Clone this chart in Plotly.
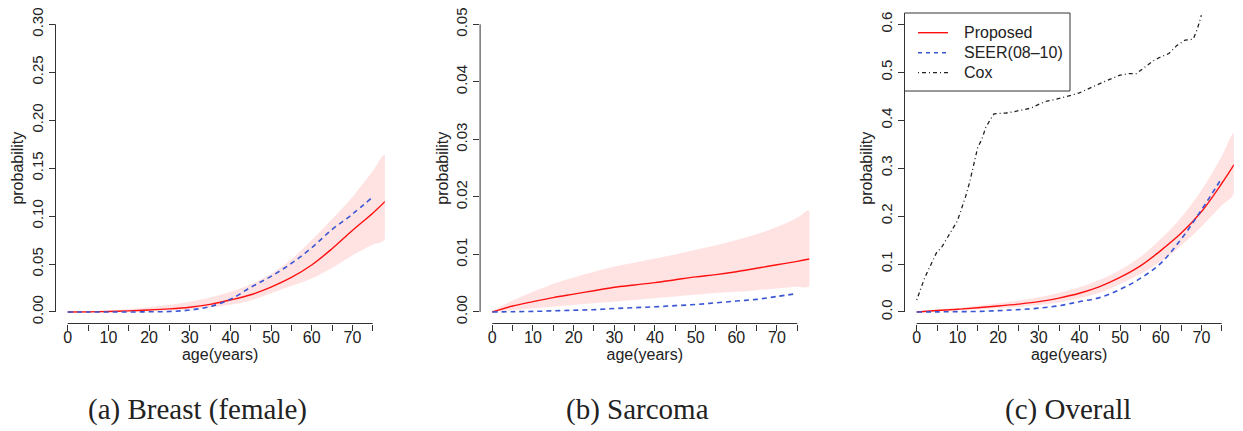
import plotly.graph_objects as go

# ---------------- data ----------------
age_grid = [0, 5, 10, 15, 20, 25, 30, 35, 40, 45, 50, 55, 60, 65, 70, 75, 78]
seer_age = [0, 5, 10, 15, 20, 25, 30, 35, 40, 45, 50, 55, 60, 65, 70, 75]

breast_proposed = [0.0, 0.0001, 0.0005, 0.0012, 0.002, 0.0032, 0.005, 0.008, 0.0125,
                   0.018, 0.026, 0.036, 0.049, 0.066, 0.085, 0.103, 0.115]
breast_upper = [0.0, 0.0003, 0.0015, 0.003, 0.005, 0.0075, 0.0107, 0.015, 0.021,
                0.029, 0.040, 0.055, 0.075, 0.097, 0.120, 0.147, 0.164]
breast_lower = [0.0, 0.0, 0.0001, 0.0004, 0.0008, 0.0015, 0.0028, 0.0048, 0.0075,
                0.012, 0.0195, 0.027, 0.035, 0.046, 0.059, 0.070, 0.076]
breast_seer = [0.0, 0.0, 0.0, 0.0, 0.0002, 0.0005, 0.002, 0.0056, 0.0132,
               0.0257, 0.0372, 0.0507, 0.067, 0.086, 0.102, 0.120]

sarcoma_proposed = [0.0, 0.00104, 0.0018, 0.0025, 0.0031, 0.0037, 0.0043, 0.0047, 0.0051,
                    0.0056, 0.0061, 0.0065, 0.0070, 0.0076, 0.0082, 0.0088, 0.0092]
sarcoma_upper = [0.0002, 0.002, 0.0035, 0.0049, 0.006, 0.007, 0.0079, 0.0086, 0.0093,
                 0.010, 0.0108, 0.0116, 0.0125, 0.0135, 0.0148, 0.0164, 0.0176]
sarcoma_lower = [0.0, 0.0003, 0.00064, 0.0009, 0.0012, 0.0015, 0.0018, 0.0021, 0.0024,
                 0.0027, 0.003, 0.0033, 0.0035, 0.0038, 0.0041, 0.0044, 0.0045]
sarcoma_seer = [0.0, 0.00005, 0.0001, 0.0002, 0.0003, 0.0004, 0.0006, 0.00075, 0.0009,
                0.0011, 0.0013, 0.0016, 0.0019, 0.0022, 0.0027, 0.0032]

overall_proposed = [0.0, 0.003, 0.0056, 0.009, 0.0125, 0.0165, 0.0215, 0.029, 0.039,
                    0.053, 0.072, 0.096, 0.128, 0.164, 0.209, 0.268, 0.307]
overall_upper = [0.001, 0.005, 0.0083, 0.013, 0.018, 0.024, 0.0306, 0.040, 0.0515,
                 0.067, 0.0876, 0.115, 0.152, 0.197, 0.254, 0.325, 0.373]
overall_lower = [0.0, 0.002, 0.004, 0.0057, 0.0077, 0.0105, 0.0146, 0.020, 0.0285,
                 0.040, 0.058, 0.079, 0.105, 0.138, 0.178, 0.222, 0.2475]
overall_seer = [0.0, 0.0003, 0.0007, 0.0012, 0.0028, 0.005, 0.008, 0.013, 0.0215,
                0.030, 0.047, 0.070, 0.1015, 0.1516, 0.2127, 0.279]

cox_age = [0, 1, 2, 3, 4, 5, 6, 7, 8, 9, 10, 11, 12, 13, 14, 15, 16, 17, 18, 19, 20,
           22, 24, 26, 28, 30, 32, 34, 36, 38, 40, 42, 44, 46, 48, 50, 52, 54, 56,
           58, 60, 62, 64, 66, 68, 69, 70]
cox_prob = [0.025, 0.05, 0.072, 0.09, 0.11, 0.126, 0.133, 0.148, 0.16, 0.175, 0.19,
            0.215, 0.24, 0.27, 0.31, 0.343, 0.36, 0.385, 0.40, 0.413, 0.414,
            0.415, 0.418, 0.421, 0.425, 0.433, 0.44, 0.443, 0.447, 0.452, 0.457,
            0.465, 0.472, 0.48, 0.487, 0.494, 0.497, 0.497, 0.51, 0.523, 0.532,
            0.539, 0.556, 0.567, 0.569, 0.59, 0.619]

x_tick_vals = [0, 5, 10, 15, 20, 25, 30, 35, 40, 45, 50, 55, 60, 65, 70, 75]
x_tick_text = ["0", "", "10", "", "20", "", "30", "", "40", "", "50", "", "60", "", "70", ""]

y1_tick_vals = [0.0, 0.05, 0.10, 0.15, 0.20, 0.25, 0.30]
y1_tick_text = ["0.00", "0.05", "0.10", "0.15", "0.20", "0.25", "0.30"]
y2_tick_vals = [0.0, 0.01, 0.02, 0.03, 0.04, 0.05]
y2_tick_text = ["0.00", "0.01", "0.02", "0.03", "0.04", "0.05"]
y3_tick_vals = [0.0, 0.1, 0.2, 0.3, 0.4, 0.5, 0.6]
y3_tick_text = ["0.0", "0.1", "0.2", "0.3", "0.4", "0.5", "0.6"]

series_names = ["Proposed", "SEER(08\u201310)", "Cox"]
captions = ["(a) Breast (female)", "(b) Sarcoma", "(c) Overall"]
x_title = "age(years)"
y_title = "probability"

# ---------------- styling ----------------
W, H = 1243, 431
RED = "#ff1010"
BLUE = "#3a56d4"
BLACK = "#222222"
BAND = "rgba(255,0,0,0.11)"
AXC = "#333333"
SANS = "Liberation Sans, Arial, sans-serif"
SERIF = "Liberation Serif, Times New Roman, serif"

panel_left_px = [55.5, 480.1, 904.5]
panel_width_px = 329.4
plot_top_px, plot_bottom_px = 12.8, 323.5
caption_x_px = [197, 637, 1068]
caption_y_px = 409

# manual R-style legend geometry (pixels)
leg_box = (904.5, 13.0, 1070.0, 91.0)
leg_rows_y = [32.7, 52.7, 72.7]
leg_line_x = (918.0, 948.0)
leg_text_x = 962.0
leg_styles = [dict(color="#ff1010", width=1.4),
              dict(color="#3a56d4", width=1.6, dash="4px,4px"),
              dict(color="#222222", width=1.3, dash="1px,3px,4px,3px")]

def px_x(v):
    return v / W

def px_y(v):
    return 1 - v / H

fig = go.Figure()

panels = [
    (breast_proposed, breast_upper, breast_lower, breast_seer, y1_tick_vals, y1_tick_text),
    (sarcoma_proposed, sarcoma_upper, sarcoma_lower, sarcoma_seer, y2_tick_vals, y2_tick_text),
    (overall_proposed, overall_upper, overall_lower, overall_seer, y3_tick_vals, y3_tick_text),
]

for i, (prop, up, lo, seer, yv, yt) in enumerate(panels):
    n = "" if i == 0 else str(i + 1)
    xa, ya = "x" + n, "y" + n
    fig.add_trace(go.Scatter(
        x=age_grid + age_grid[::-1], y=up + lo[::-1], xaxis=xa, yaxis=ya,
        fill="toself", fillcolor=BAND, line=dict(width=0, shape="spline"),
        mode="lines", showlegend=False, hoverinfo="skip"))
    fig.add_trace(go.Scatter(
        x=age_grid, y=prop, xaxis=xa, yaxis=ya, mode="lines", name=series_names[0],
        line=dict(color=RED, width=1.4, shape="spline"), showlegend=False))
    fig.add_trace(go.Scatter(
        x=seer_age, y=seer, xaxis=xa, yaxis=ya, mode="lines", name=series_names[1],
        line=dict(color=BLUE, width=1.6, dash="5px,4px", shape="spline"),
        showlegend=False))
    if i == 2:
        fig.add_trace(go.Scatter(
            x=cox_age, y=cox_prob, xaxis=xa, yaxis=ya, mode="lines", name=series_names[2],
            line=dict(color=BLACK, width=1.3, dash="1px,3px,4px,3px"),
            showlegend=False))

    left = panel_left_px[i] / W
    right = (panel_left_px[i] + panel_width_px) / W
    ymax = yv[-1]
    pad = 0.04 * ymax
    fig.update_layout(**{
        ("xaxis" + n): dict(
            domain=[left, right], range=[-3, 78], anchor=ya,
            tickvals=x_tick_vals, ticktext=x_tick_text, ticks="outside", ticklen=6,
            tickwidth=1, tickcolor=AXC, showline=False, showgrid=False, zeroline=False,
            tickfont=dict(family=SANS, size=16, color="#222"),
            ticklabelstandoff=-7,
            title=dict(text=x_title, font=dict(family=SANS, size=16, color="#222"),
                       standoff=4),
            automargin=False),
        ("yaxis" + n): dict(
            domain=[1 - plot_bottom_px / H, 1 - plot_top_px / H],
            range=[-pad, ymax + pad], anchor=xa,
            tickvals=yv, ticktext=yt, ticks="outside", ticklen=6, tickwidth=1,
            tickcolor=AXC, tickangle=-90, showline=False, showgrid=False, zeroline=False,
            tickfont=dict(family=SANS, size=15, color="#222"),
            title=dict(text=y_title, font=dict(family=SANS, size=16, color="#222"),
                       standoff=0),
            automargin=False),
    })
    # R-style axis lines spanning first to last tick
    fig.add_shape(type="line", xref=xa, yref=ya + " domain",
                  x0=x_tick_vals[0], x1=x_tick_vals[-1], y0=0, y1=0,
                  line=dict(color=AXC, width=1))
    fig.add_shape(type="line", xref=xa + " domain", yref=ya,
                  x0=0, x1=0, y0=yv[0], y1=yv[-1],
                  line=dict(color=AXC, width=1))
    fig.add_annotation(text=captions[i], xref="paper", yref="paper",
                       x=caption_x_px[i] / W, y=1 - caption_y_px / H,
                       xanchor="center", yanchor="middle", showarrow=False,
                       font=dict(family=SERIF, size=29, color="#222"))

# legend box (R legend("topleft"))
fig.add_shape(type="rect", xref="paper", yref="paper",
              x0=px_x(leg_box[0]), x1=px_x(leg_box[2]),
              y0=px_y(leg_box[3]), y1=px_y(leg_box[1]),
              line=dict(color=AXC, width=1), fillcolor="white", layer="above")
for name, yrow, st in zip(series_names, leg_rows_y, leg_styles):
    fig.add_shape(type="line", xref="paper", yref="paper",
                  x0=px_x(leg_line_x[0]), x1=px_x(leg_line_x[1]),
                  y0=px_y(yrow), y1=px_y(yrow), line=st, layer="above")
    fig.add_annotation(text=name, xref="paper", yref="paper",
                       x=px_x(leg_text_x), y=px_y(yrow), xanchor="left",
                       yanchor="middle", showarrow=False,
                       font=dict(family=SANS, size=16, color="#222"))

fig.update_layout(
    template="none",
    width=W, height=H,
    margin=dict(l=0, r=0, t=0, b=0),
    paper_bgcolor="white", plot_bgcolor="white",
    showlegend=False,
)

fig.write_html("out.html")
